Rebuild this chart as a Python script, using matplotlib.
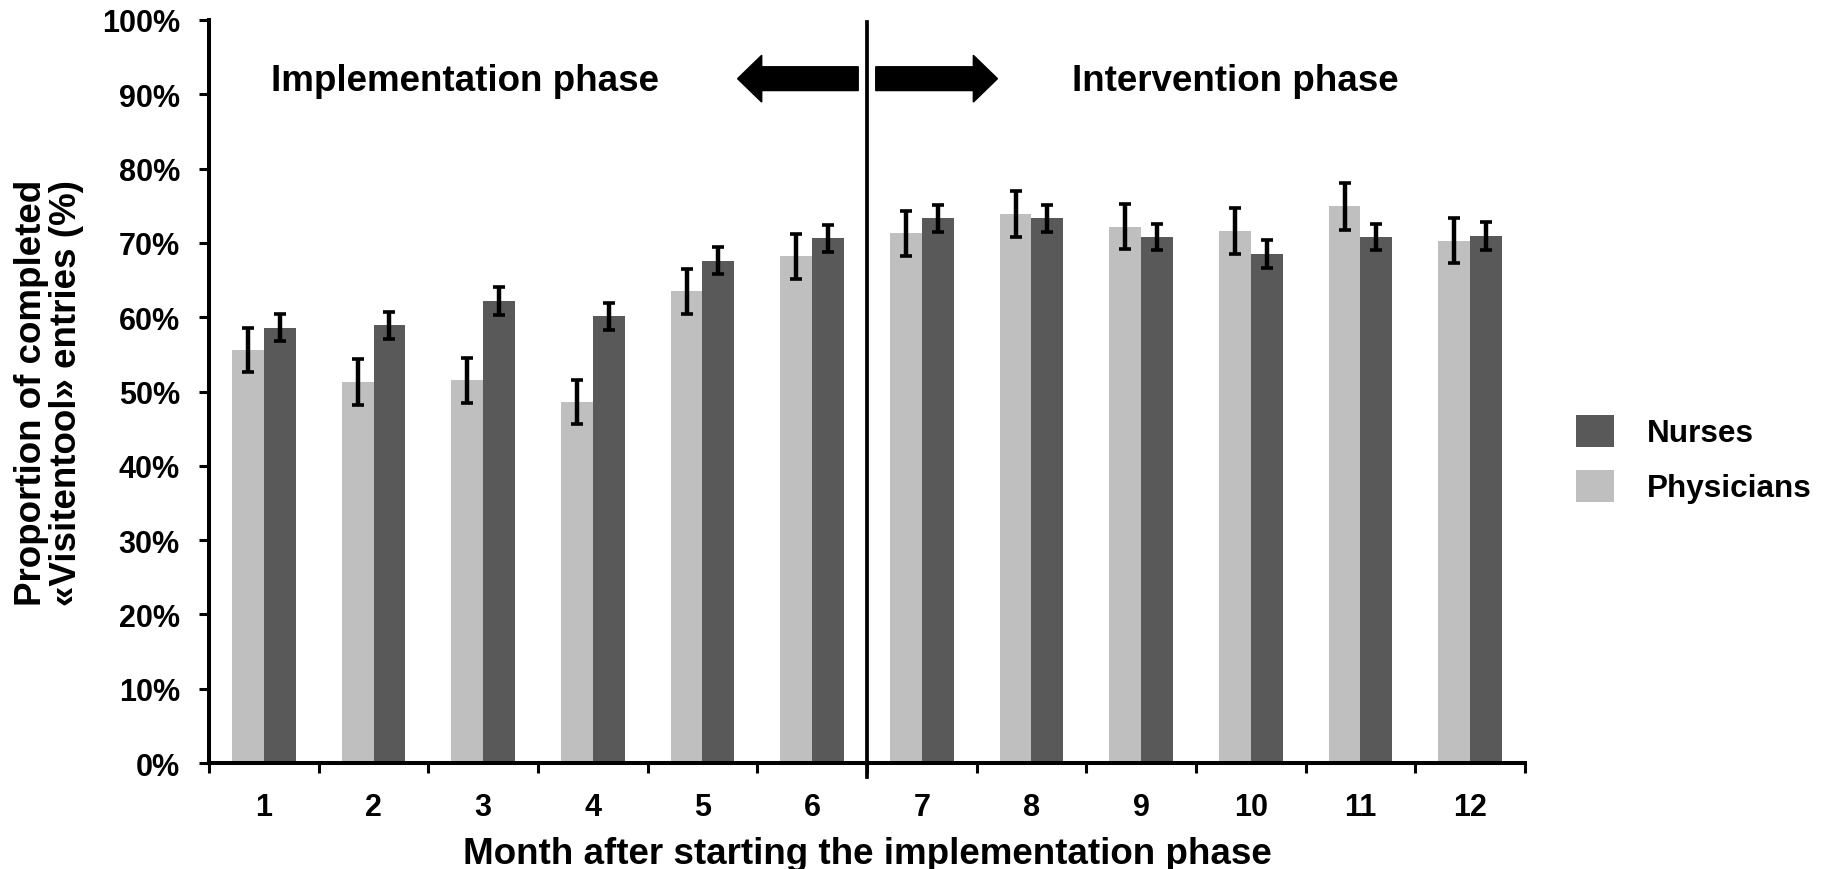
import numpy as np
import matplotlib
matplotlib.use("Agg")
import matplotlib.pyplot as plt
from matplotlib.patches import FancyArrow, Patch

plt.rcParams['font.family'] = ['Liberation Sans', 'DejaVu Sans']
plt.rcParams['font.weight'] = 'bold'

# Monthly completion proportions (%) with error half-widths
months = ['1', '2', '3', '4', '5', '6', '7', '8', '9', '10', '11', '12']
physicians = [55.6, 51.3, 51.5, 48.6, 63.5, 68.2, 71.3, 73.9, 72.2, 71.6, 74.9, 70.3]
physicians_err = [3.0, 3.05, 3.0, 3.0, 3.05, 3.0, 3.05, 3.05, 3.05, 3.1, 3.1, 3.0]
nurses = [58.6, 58.9, 62.2, 60.1, 67.6, 70.6, 73.3, 73.3, 70.8, 68.5, 70.8, 70.9]
nurses_err = [1.8, 1.85, 1.85, 1.8, 1.8, 1.8, 1.8, 1.8, 1.8, 1.85, 1.8, 1.85]
y_ticks = [0, 10, 20, 30, 40, 50, 60, 70, 80, 90, 100]

c_phys = '#bfbfbf'
c_nurse = '#595959'

fig = plt.figure(figsize=(18.21, 8.70), dpi=100)
ax = fig.add_axes([0.1148, 0.1218, 0.8374 - 0.1148, 0.9759 - 0.1218])

x = np.arange(len(months))
w = 0.29
ax.bar(x - w / 2, physicians, width=w, color=c_phys, zorder=2)
ax.bar(x + w / 2, nurses, width=w, color=c_nurse, zorder=2)
err_style = dict(fmt='none', ecolor='black', elinewidth=3.2, capsize=4.3,
                 capthick=2.6, zorder=3)
ax.errorbar(x - w / 2, physicians, yerr=physicians_err, **err_style)
ax.errorbar(x + w / 2, nurses, yerr=nurses_err, **err_style)

ax.set_xlim(-0.5, len(months) - 0.5)
ax.set_ylim(0, 100)
ax.set_yticks(y_ticks)
ax.set_yticklabels([f'{v}%' for v in y_ticks], fontsize=22, fontweight='bold')
ax.set_xticks(x)
ax.set_xticklabels(months, fontsize=22, fontweight='bold')
ax.set_xticks(np.arange(-0.5, len(months), 1), minor=True)
ax.tick_params(axis='x', which='major', length=0, pad=21)
ax.tick_params(axis='x', which='minor', length=7, width=2.2, direction='out')
ax.tick_params(axis='y', length=7, width=2.2, direction='out', pad=14)

for s in ['top', 'right']:
    ax.spines[s].set_visible(False)
for s in ['left', 'bottom']:
    ax.spines[s].set_linewidth(2.9)

ax.set_xlabel('Month after starting the implementation phase', fontsize=26.5,
              fontweight='bold', labelpad=10)
ax.set_ylabel('Proportion of completed\n«Visitentool» entries (%)', fontsize=26.5,
              fontweight='bold', linespacing=1.0)
ax.yaxis.set_label_coords(-0.095, 0.5)

# Phase divider and direction arrows
ax.plot([5.5, 5.5], [-1.9, 99.7], color='black', lw=2.7, clip_on=False, zorder=4)
ax.add_patch(FancyArrow(5.42, 92.1, -1.10, 0, width=3.2, head_width=6.3,
                        head_length=0.22, length_includes_head=True,
                        color='black', zorder=4))
ax.add_patch(FancyArrow(5.58, 92.1, 1.11, 0, width=3.2, head_width=6.3,
                        head_length=0.22, length_includes_head=True,
                        color='black', zorder=4))
ax.text(1.83, 91.9, 'Implementation phase', fontsize=26.5, fontweight='bold',
        ha='center', va='center')
ax.text(8.86, 91.9, 'Intervention phase', fontsize=26.5, fontweight='bold',
        ha='center', va='center')

handles = [Patch(facecolor=c_nurse, label='Nurses'),
           Patch(facecolor=c_phys, label='Physicians')]
fig.legend(handles=handles, loc='center left', bbox_to_anchor=(1576 / 1821, 1 - 460 / 870),
           frameon=False, handlelength=1.2, handleheight=1.2,
           handletextpad=1.05, labelspacing=0.67, borderpad=0, borderaxespad=0,
           prop={'weight': 'bold', 'size': 22.7})

fig.savefig('out.png', dpi=100, facecolor='white')
